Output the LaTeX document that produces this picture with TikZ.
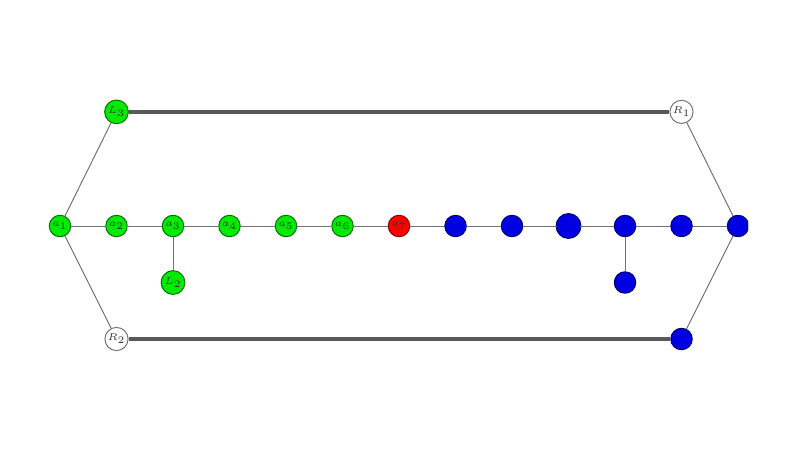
\documentclass[tikz,border=0pt]{standalone}
\usepackage[usenames,dvipsnames,x11names,rgb]{xcolor}
\usepackage{tikz}

\tikzset{
  vert/.style={circle, draw, minimum size=0.38cm, inner sep=0pt, font=\fontsize{5}{6}\selectfont, text=black!80, line width=0.5pt},
  gvert/.style={vert, fill=green!92!black, draw=green!45!black},
  rvert/.style={vert, fill=red, draw=red!55!black},
  bvert/.style={vert, fill=blue!88!black, draw=blue!45!black},
  wvert/.style={vert, fill=white, draw=black!55, minimum size=0.41cm},
  edge/.style={black!55, line width=0.5pt},
  bar/.style={black!65, line width=1.8pt}
}

\begin{document}
\begin{tikzpicture}
        \useasboundingbox (-1.062,-3.947) rectangle (13.097,4.0);
        \begin{scope}
            \clip (-1.062,-3.947) rectangle (12.18,4.0);

            \foreach \i in {1,...,6}
                \node[gvert] (a\i) at (\i-1,0) {\(a_{\i}\)};
            \node[rvert] (a7) at (6,0) {\(a_7\)};
            \foreach \i in {8,...,13}
                \node[bvert] (a\i) at (\i-1,0) {};
            \node[bvert, minimum size=0.44cm] at (a10) {};

            \node[gvert, minimum size=0.42cm] (L3) at (1,2.02) {\(L_3\)};
            \node[gvert, minimum size=0.42cm] (L2) at (2,-1) {\(L_2\)};
            \node[wvert] (R1) at (11,2.02) {\(R_1\)};
            \node[wvert] (R2) at (1,-2) {\(R_2\)};
            \node[bvert] (b1) at (10,-1) {};
            \node[bvert] (b2) at (11,-2) {};

            \foreach \i [count=\j from 2] in {1,...,12}
                \draw[edge] (a\i) -- (a\j);
            \draw[edge] (a1) -- (L3);
            \draw[edge] (a1) -- (R2);
            \draw[edge] (a3) -- (L2);
            \draw[edge] (a11) -- (b1);
            \draw[edge] (a13) -- (R1);
            \draw[edge] (a13) -- (b2);

            \draw[bar] (L3) -- (R1);
            \draw[bar] (R2) -- (b2);
        \end{scope}
    \end{tikzpicture}
\end{document}
